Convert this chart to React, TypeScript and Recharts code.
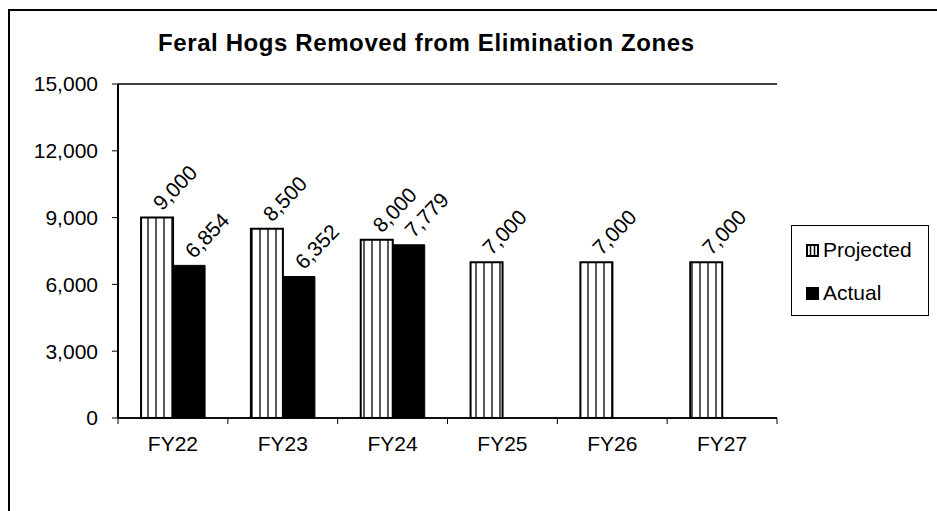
import { Bar, BarChart, CartesianGrid, LabelList, Legend, XAxis, YAxis } from "recharts";

const categories = ["FY22", "FY23", "FY24", "FY25", "FY26", "FY27"];
const projected = [9000, 8500, 8000, 7000, 7000, 7000];
const actual: (number | null)[] = [6854, 6352, 7779, null, null, null];
const yTicks = [0, 3000, 6000, 9000, 12000, 15000];

const data = categories.map((fy, i) => ({
  fy,
  projected: projected[i],
  actual: actual[i],
}));

const FONT = "Arial, 'Liberation Sans', sans-serif";
const W = 937;
const H = 511;
const PLOT_LEFT = 118;
const PLOT_RIGHT = 777;
const BAND = (PLOT_RIGHT - PLOT_LEFT) / categories.length;

const fmt = (v: number) => v.toLocaleString("en-US");

function XTick(props: any) {
  const { x, y, payload, index } = props;
  const last = index === categories.length - 1;
  return (
    <g>
      <line x1={x - BAND / 2} x2={x - BAND / 2} y1={y} y2={y + 6} stroke="#000" strokeWidth={1} />
      {last && <line x1={x + BAND / 2} x2={x + BAND / 2} y1={y} y2={y + 6} stroke="#000" strokeWidth={1} />}
      <text x={x} y={y + 33} textAnchor="middle" fontSize={21} fontFamily={FONT} fill="#000">
        {payload.value}
      </text>
    </g>
  );
}

function BarLabel(props: any) {
  const { x, y, width, value } = props;
  if (value == null) return null;
  const cx = x + width / 2 + 5;
  const cy = y - 6;
  return (
    <text
      x={cx}
      y={cy}
      transform={`rotate(-46 ${cx} ${cy})`}
      fontSize={21}
      fontFamily={FONT}
      fill="#000"
      textAnchor="start"
    >
      {fmt(value)}
    </text>
  );
}

function LegendBox() {
  return (
    <div
      style={{
        boxSizing: "border-box",
        width: 138,
        height: 91,
        border: "1.5px solid #000",
        position: "relative",
        fontFamily: FONT,
        fontSize: 21,
        color: "#000",
        background: "#fff",
      }}
    >
      <div style={{ position: "absolute", left: 14, top: 12, display: "flex", alignItems: "center", lineHeight: "24px" }}>
        <svg width={13} height={13} style={{ marginRight: 4 }}>
          <rect x={1} y={1} width={11} height={11} fill="#fff" stroke="#000" strokeWidth={2} />
          <line x1={4.5} x2={4.5} y1={1} y2={12} stroke="#000" strokeWidth={1.5} />
          <line x1={8.5} x2={8.5} y1={1} y2={12} stroke="#000" strokeWidth={1.5} />
        </svg>
        Projected
      </div>
      <div style={{ position: "absolute", left: 14, top: 55, display: "flex", alignItems: "center", lineHeight: "24px" }}>
        <svg width={13} height={13} style={{ marginRight: 4 }}>
          <rect x={0} y={0} width={13} height={13} fill="#000" />
        </svg>
        Actual
      </div>
    </div>
  );
}

export default function App() {
  return (
    <div style={{ position: "absolute", left: 0, top: 0, width: W, height: H, background: "#fff", overflow: "hidden" }}>
      <div
        style={{
          position: "absolute",
          left: 8,
          top: 9,
          width: W - 8,
          height: H - 9,
          boxSizing: "border-box",
          borderLeft: "2px solid #000",
          borderTop: "2px solid #000",
        }}
      />
      <div
        style={{
          position: "absolute",
          left: 158,
          top: 29,
          whiteSpace: "nowrap",
          fontFamily: FONT,
          fontWeight: "bold",
          fontSize: 24,
          letterSpacing: 0.6,
          color: "#000",
        }}
      >
        Feral Hogs Removed from Elimination Zones
      </div>
      <div style={{ position: "absolute", left: 0, top: 0 }}>
        <BarChart
          width={W}
          height={H}
          data={data}
          margin={{ top: 84, right: W - PLOT_RIGHT, left: 0, bottom: 0 }}
          barCategoryGap="21%"
          barGap={0}
        >
          <defs>
            <pattern id="vstripes" patternUnits="userSpaceOnUse" width={8} height={8}>
              <rect x={0} y={0} width={8} height={8} fill="#fff" />
              <line x1={4} x2={4} y1={0} y2={8} stroke="#000" strokeWidth={1.3} />
            </pattern>
          </defs>
          <CartesianGrid vertical={false} stroke="#000" strokeWidth={1.5} />
          <XAxis
            dataKey="fy"
            height={H - 84 - 334}
            axisLine={{ stroke: "#000", strokeWidth: 1.5 }}
            tickLine={false}
            tickSize={0}
            tickMargin={0}
            tick={<XTick />}
            interval={0}
          />
          <YAxis
            yAxisId="l"
            width={PLOT_LEFT}
            domain={[0, 15000]}
            ticks={yTicks}
            tickFormatter={fmt}
            axisLine={{ stroke: "#000", strokeWidth: 2 }}
            tickLine={{ stroke: "#000" }}
            tickSize={6}
            tickMargin={14}
            tick={{ fill: "#000", fontSize: 21, fontFamily: FONT }}
          />
          <YAxis
            yAxisId="r"
            orientation="right"
            width={0}
            domain={[0, 15000]}
            tick={false}
            tickLine={false}
            axisLine={{ stroke: "#000", strokeWidth: 1.5 }}
          />
          <Legend
            layout="vertical"
            align="center"
            verticalAlign="middle"
            content={<LegendBox />}
            wrapperStyle={{ left: 791, top: 225, width: 138, height: 91 }}
          />
          <Bar
            yAxisId="l"
            dataKey="projected"
            name="Projected"
            fill="url(#vstripes)"
            stroke="#000"
            strokeWidth={2}
            isAnimationActive={false}
          >
            <LabelList dataKey="projected" content={<BarLabel />} />
          </Bar>
          <Bar yAxisId="l" dataKey="actual" name="Actual" fill="#000" stroke="#000" strokeWidth={1} isAnimationActive={false}>
            <LabelList dataKey="actual" content={<BarLabel />} />
          </Bar>
        </BarChart>
      </div>
    </div>
  );
}
